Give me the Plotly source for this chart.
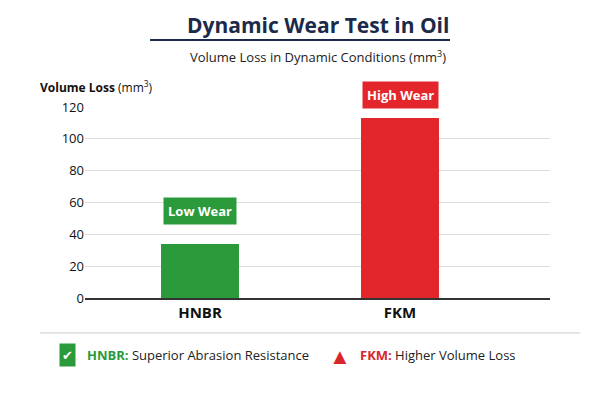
import plotly.graph_objects as go

categories = ["HNBR", "FKM"]
values = [34, 113]
colors = ["#2a9a3a", "#e3262c"]
badges = ["Low Wear", "High Wear"]
badge_y = [0.455, 1.062]
yticks = [0, 20, 40, 60, 80, 100, 120]

fig = go.Figure(go.Bar(x=categories, y=values, marker_color=colors, width=0.39,
                       marker_line_width=0))
navy = "#1c2a4a"
F = "Open Sans"
ann = [
    dict(text="<b>Dynamic Wear Test in Oil</b>", x=0.5, y=1.43, font=dict(size=21, color=navy, family=F)),
    dict(text="Volume Loss in Dynamic Conditions (mm<sup>3</sup>)", x=0.5, y=1.262, font=dict(size=13, color="#222", family=F)),
    dict(text="<b>Volume Loss</b> (mm<sup>3</sup>)", x=-0.101, y=1.105, xanchor="left", font=dict(size=12, color="#111", family=F)),
    dict(text="✔", x=-0.037, y=-0.298, font=dict(size=13, color="white"), bgcolor="#2a9a3a",
         borderpad=2),
    dict(text="<b><span style='color:#2a9a3a'>HNBR:</span></b> Superior Abrasion Resistance", x=0.0, y=-0.298,
         xanchor="left", font=dict(size=13, color="#222", family=F)),
    dict(text="▲", x=0.548, y=-0.298, font=dict(size=22, color="#d8262c")),
    dict(text="<b><span style='color:#d8262c'>FKM:</span></b> Higher Volume Loss", x=0.587, y=-0.298,
         xanchor="left", font=dict(size=13, color="#222", family=F)),
]
for a in ann:
    a.update(xref="paper", yref="paper", showarrow=False, yanchor="middle")
    a.setdefault("xanchor", "center")
for i, (b, yb, col) in enumerate(zip(badges, badge_y, colors)):
    ann.append(dict(x=categories[i], y=yb, xref="x", yref="paper", text="<b>" + b + "</b>",
                    showarrow=False, yanchor="middle", xanchor="center",
                    bgcolor=col, font=dict(size=13, color="white", family=F), borderpad=4))
fig.update_layout(
    width=600, height=400, margin=dict(l=77, r=58, t=99, b=110),
    paper_bgcolor="white", plot_bgcolor="white", showlegend=False,
    annotations=ann,
    shapes=[
        dict(type="line", xref="paper", yref="paper", x0=0.14, x1=0.785, y0=1.351, y1=1.351,
             line=dict(color=navy, width=2)),
        dict(type="line", xref="paper", yref="paper", x0=-0.097, x1=1.065, y0=-0.183, y1=-0.183,
             line=dict(color="#ccc", width=1)),
    ],
    xaxis=dict(range=[-0.575, 1.75], showline=True, linecolor="#333", linewidth=1.5,
               tickfont=dict(size=15, color="#111", family=F), ticks="",
               tickprefix="<b>", ticksuffix="</b>"),
    yaxis=dict(range=[0, 120], tickvals=yticks, showgrid=True, gridcolor="#ddd",
               tickfont=dict(size=13, color="#111", family=F), zeroline=False),
    bargap=0,
)
fig.write_html("out.html")
